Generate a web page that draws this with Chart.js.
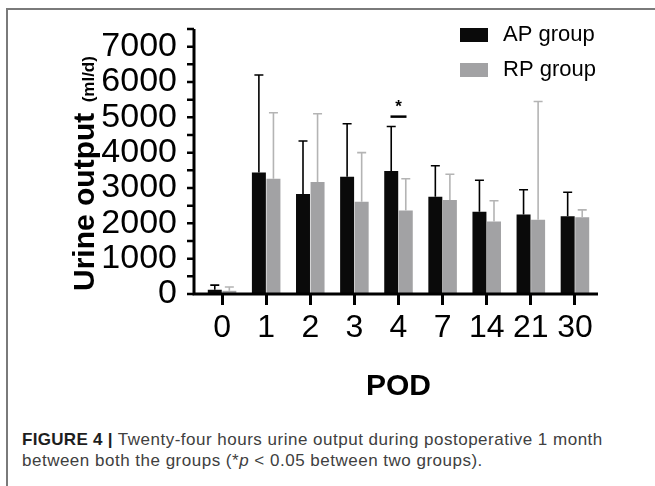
<!DOCTYPE html>
<html>
<head>
<meta charset="utf-8">
<script src="https://cdn.jsdelivr.net/npm/chart.js@4/dist/chart.umd.min.js"></script>
<style>
  body { margin: 0; background: #fff; }
  #wrap { position: relative; width: 655px; height: 486px; overflow: hidden; }
  .frame { position: absolute; left: 6px; top: 8px; right: -4px; bottom: -4px;
           border-left: 2px solid #7a7a7a; border-top: 2px solid #7a7a7a; }
  #chart { position: absolute; left: 0; top: 0; }
  .caption { position: absolute; left: 22px; top: 429px; font-family: "Liberation Sans", Arial, sans-serif;
             font-size: 17px; letter-spacing: 0.5px; line-height: 21px; color: #404040; white-space: nowrap; }
  .caption b { color: #1e1e1e; letter-spacing: 0.3px; }
</style>
</head>
<body>
<div id="wrap">
  <div class="frame"></div>
  <canvas id="chart" width="655" height="420"></canvas>
  <div class="caption"><b>FIGURE 4 |</b> Twenty-four hours urine output during postoperative 1 month<br>between both the groups (*<i>p</i> &lt; 0.05 between two groups).</div>
</div>
<script>
// postoperative day, mean and upper end of the error bar (ml/d)
const PODS = ['0', '1', '2', '3', '4', '7', '14', '21', '30'];
const AP_MEAN = [120, 3440, 2830, 3320, 3480, 2750, 2330, 2250, 2200];
const AP_ERR_TOP = [250, 6200, 4330, 4820, 4740, 3630, 3220, 2950, 2880];
const RP_MEAN = [90, 3260, 3170, 2610, 2360, 2660, 2050, 2100, 2170];
const RP_ERR_TOP = [200, 5130, 5100, 4000, 3260, 3390, 2640, 5450, 2380];
const Y_TICKS = [0, 1000, 2000, 3000, 4000, 5000, 6000, 7000];
const Y_MINOR = [500, 1500, 2500, 3500, 4500, 5500, 6500, 7500];
const SIG_INDEX = 4;
const SIG_LEVEL = 5020;

const FONT = '"Liberation Sans", Arial, Helvetica, sans-serif';

// GraphPad-style axes: y axis sits a little left of the first category
const axesPlugin = {
  id: 'axes',
  afterDatasetsDraw(chart) {
    const { ctx, chartArea: a, scales: { y } } = chart;
    const ax = a.left - 6;
    ctx.save();
    ctx.strokeStyle = '#000';
    ctx.lineWidth = 3;
    ctx.beginPath();
    ctx.moveTo(ax, y.getPixelForValue(7500));
    ctx.lineTo(ax, a.bottom + 1.5);
    ctx.moveTo(ax - 1.5, a.bottom);
    ctx.lineTo(a.right + 1, a.bottom);
    ctx.stroke();
    ctx.lineWidth = 2.5;
    ctx.beginPath();
    Y_TICKS.concat(Y_MINOR).forEach(v => {
      const py = y.getPixelForValue(v);
      ctx.moveTo(ax - 7, py);
      ctx.lineTo(ax, py);
    });
    ctx.stroke();
    ctx.restore();
  }
};

const errorBarPlugin = {
  id: 'errorBars',
  afterDatasetsDraw(chart) {
    const { ctx, scales: { y } } = chart;
    chart.data.datasets.forEach((ds, i) => {
      const meta = chart.getDatasetMeta(i);
      ctx.save();
      ctx.strokeStyle = ds.errColor;
      ctx.lineWidth = 1.6;
      meta.data.forEach((bar, j) => {
        const top = y.getPixelForValue(ds.errTop[j]);
        ctx.beginPath();
        ctx.moveTo(bar.x, bar.y);
        ctx.lineTo(bar.x, top);
        ctx.moveTo(bar.x - 4.5, top);
        ctx.lineTo(bar.x + 4.5, top);
        ctx.stroke();
      });
      ctx.restore();
    });
  }
};

const sigPlugin = {
  id: 'sig',
  afterDatasetsDraw(chart) {
    const { ctx, scales: { x, y } } = chart;
    const cx = x.getPixelForValue(SIG_INDEX);
    const py = y.getPixelForValue(SIG_LEVEL);
    ctx.save();
    ctx.strokeStyle = '#000';
    ctx.lineWidth = 2.5;
    ctx.beginPath();
    ctx.moveTo(cx - 8, py);
    ctx.lineTo(cx + 8, py);
    ctx.stroke();
    ctx.fillStyle = '#000';
    ctx.font = 'bold 17px ' + FONT;
    ctx.textAlign = 'center';
    ctx.textBaseline = 'alphabetic';
    ctx.fillText('*', cx, py - 5);
    ctx.restore();
  }
};

const yTitlePlugin = {
  id: 'yTitle',
  afterDraw(chart) {
    const { ctx, chartArea: a } = chart;
    ctx.save();
    ctx.translate(94, a.bottom - 3);
    ctx.rotate(-Math.PI / 2);
    ctx.fillStyle = '#000';
    ctx.textAlign = 'left';
    ctx.textBaseline = 'alphabetic';
    ctx.font = 'bold 30px ' + FONT;
    const main = 'Urine output ';
    ctx.fillText(main, 0, 0);
    const w = ctx.measureText(main).width;
    ctx.font = 'bold 17px ' + FONT;
    ctx.fillText('(ml/d)', w + 2, 0);
    ctx.restore();
  }
};

const legendPlugin = {
  id: 'boxLegend',
  afterDraw(chart) {
    const { ctx } = chart;
    ctx.save();
    chart.data.datasets.forEach((ds, i) => {
      const top = 28 + i * 35;
      ctx.fillStyle = ds.backgroundColor;
      ctx.fillRect(460, top, 28, 14);
      ctx.fillStyle = '#000';
      ctx.font = '22px ' + FONT;
      ctx.textBaseline = 'middle';
      ctx.fillText(ds.label, 503, top + 7);
    });
    ctx.restore();
  }
};

new Chart(document.getElementById('chart'), {
  type: 'bar',
  data: {
    labels: PODS,
    datasets: [
      { label: 'AP group', data: AP_MEAN, errTop: AP_ERR_TOP, backgroundColor: '#0a0a0a', errColor: '#000' },
      { label: 'RP group', data: RP_MEAN, errTop: RP_ERR_TOP, backgroundColor: '#a2a2a4', errColor: '#b4b4b4' },
    ],
  },
  options: {
    responsive: false,
    animation: false,
    devicePixelRatio: 1,
    categoryPercentage: 0.66,
    barPercentage: 0.96,
    layout: { padding: { top: 29, right: 58, left: 0, bottom: 0 } },
    plugins: { legend: { display: false }, tooltip: { enabled: false } },
    scales: {
      x: {
        grid: { display: true, drawOnChartArea: false, offset: false, tickLength: 11, tickWidth: 3, color: '#000' },
        border: { display: false },
        ticks: { color: '#000', font: { family: FONT, size: 32 }, padding: 4, maxRotation: 0, autoSkip: false },
        title: { display: true, text: 'POD', color: '#000', font: { family: FONT, size: 30, weight: 'bold' }, padding: { top: 7, bottom: 15 } },
        afterFit: s => { s.height = 126; s.paddingLeft = 0; s.paddingRight = 0; },
      },
      y: {
        min: 0,
        max: 7500,
        grid: { display: false },
        border: { display: false },
        ticks: { color: '#000', font: { family: FONT, size: 34 }, padding: 15, autoSkip: false, callback: v => String(v) },
        afterBuildTicks: s => { s.ticks = Y_TICKS.map(v => ({ value: v })); },
        afterFit: s => { s.width = 200; s.paddingTop = 0; s.paddingBottom = 0; },
      },
    },
  },
  plugins: [axesPlugin, errorBarPlugin, sigPlugin, yTitlePlugin, legendPlugin],
});
</script>
</body>
</html>
